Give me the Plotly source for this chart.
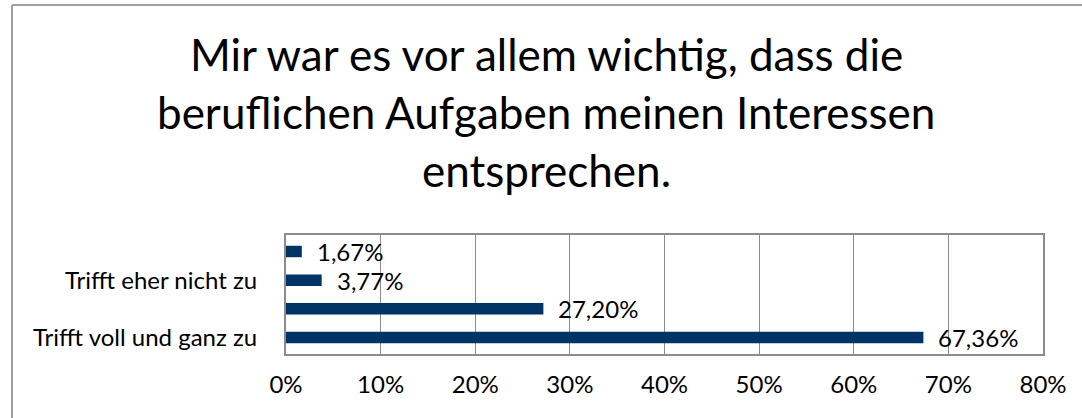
import plotly.graph_objects as go

# Data (bottom-to-top order for the category axis)
categories = ["Trifft voll und ganz zu", "Trifft eher zu", "Trifft eher nicht zu", "Trifft überhaupt nicht zu"]
values = [67.36, 27.20, 3.77, 1.67]
shown_labels = ["Trifft voll und ganz zu", "Trifft eher nicht zu"]
title_lines = ["Mir war es vor allem wichtig, dass die",
               "beruflichen Aufgaben meinen Interessen",
               "entsprechen."]
x_ticks = [0, 10, 20, 30, 40, 50, 60, 70, 80]

W, H = 1082, 418
L, R, T, B = 286, 1043, 235, 354
FONT = "Lato"
GRAY = "#8c8c8c"

def px_x(px):
    return (px - L) / (R - L)

def px_y(py):
    return (B - py) / (B - T)

fig = go.Figure()
fig.add_trace(go.Bar(
    x=values, y=categories, orientation="h",
    marker=dict(color="#003366", line=dict(width=0)),
    width=0.4, hoverinfo="x+y",
))

annotations = []
for v, c in zip(values, categories):
    annotations.append(dict(
        x=v, y=c, xref="x", yref="y", xanchor="left", yanchor="middle",
        xshift=13, showarrow=False,
        text=f"{v:.2f}".replace(".", ",") + "%",
        font=dict(family=FONT, size=24, color="#000000"),
    ))

title_baselines = [70, 128, 186]
title_size = 44
for line, base in zip(title_lines, title_baselines):
    annotations.append(dict(
        x=px_x(546), y=px_y(base - 0.37 * title_size), xref="paper", yref="paper",
        xanchor="center", yanchor="middle", showarrow=False, text=line,
        font=dict(family=FONT, size=title_size, color="#000000"),
    ))

shapes = [
    dict(type="line", xref="paper", yref="paper", x0=px_x(12), x1=px_x(1095),
         y0=px_y(5), y1=px_y(5), line=dict(color="#a0a0a0", width=2)),
    dict(type="line", xref="paper", yref="paper", x0=px_x(12), x1=px_x(12),
         y0=px_y(5), y1=px_y(430), line=dict(color="#a0a0a0", width=2)),
]

fig.update_layout(
    width=W, height=H,
    margin=dict(l=L, r=W - R, t=T, b=H - B, pad=0),
    paper_bgcolor="white", plot_bgcolor="white",
    showlegend=False,
    annotations=annotations, shapes=shapes,
    font=dict(family=FONT, color="#000000"),
    xaxis=dict(
        range=[0, 80], tickvals=x_ticks, ticktext=[f"{t}%" for t in x_ticks],
        showgrid=True, gridcolor=GRAY, gridwidth=1,
        showline=True, linecolor=GRAY, linewidth=2, mirror=True,
        ticks="", ticklabelstandoff=8, zeroline=False,
        tickfont=dict(family=FONT, size=24, color="#000000"),
    ),
    yaxis=dict(
        type="category", categoryorder="array", categoryarray=categories,
        tickvals=shown_labels, ticktext=shown_labels,
        showgrid=False, showline=True, linecolor=GRAY, linewidth=2, mirror=True,
        ticks="", ticklabelstandoff=22,
        tickfont=dict(family=FONT, size=24, color="#000000"),
    ),
)

fig.write_html("out.html",
               config={"displayModeBar": False},
               post_script="document.body.style.margin='0';document.body.style.overflow='hidden';")
